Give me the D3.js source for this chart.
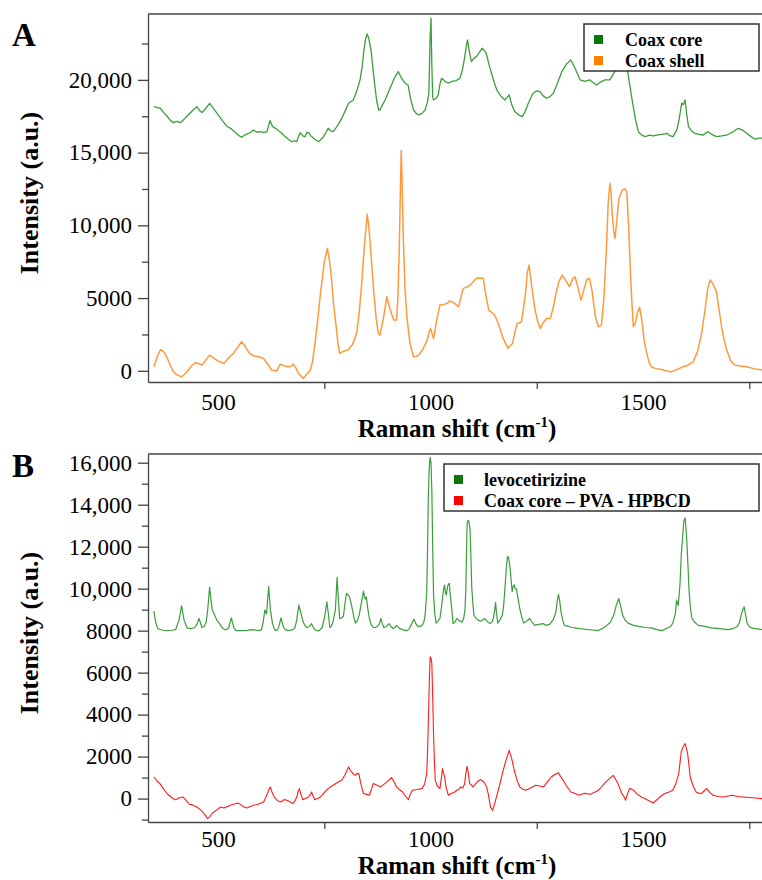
<!DOCTYPE html>
<html>
<head>
<meta charset="utf-8">
<script src="https://cdn.jsdelivr.net/npm/d3@7"></script>
<style>
body { margin: 0; background: #fff; }
svg { font-family: "Liberation Serif", "Times New Roman", serif; }
.axis path, .axis line { stroke: #444; stroke-width: 1.3; }
.axis text { fill: #000; font-size: 23px; font-family: "Liberation Serif", "Times New Roman", serif; }
</style>
</head>
<body>
<svg width="762" height="880"></svg>
<script>
// spectra: [Raman shift, intensity]
var coaxCore = [[349,18160],[357,18100],[364,18050],[372,17750],[380,17500],[388,17200],[395,17060],[403,17150],[411,17060],[420,17300],[430,17600],[440,17900],[450,18160],[456,17900],[462,17750],[470,18000],[480,18390],[490,18000],[500,17600],[510,17200],[520,16830],[530,16650],[540,16400],[548,16200],[555,16050],[562,16200],[570,16300],[577,16400],[583,16550],[592,16400],[600,16450],[608,16380],[615,16440],[622,17200],[628,16800],[635,16670],[642,16500],[650,16330],[656,16150],[662,16000],[668,15850],[673,15750],[680,15800],[685,15750],[689,16100],[693,16370],[699,16150],[705,16100],[709,16400],[713,16370],[717,16200],[720,16100],[728,15900],[736,15750],[742,15900],[748,16100],[754,16400],[759,16670],[765,16500],[771,16440],[780,16800],[790,17300],[798,17800],[807,18390],[812,18500],[818,18620],[826,19200],[834,20000],[839,20900],[843,22000],[847,22800],[851,23160],[855,22800],[860,22000],[864,20900],[868,19800],[873,18600],[878,17930],[881,17930],[887,18300],[893,18620],[903,19300],[913,20000],[918,20300],[924,20570],[932,20100],[940,19770],[947,19650],[953,18700],[960,17930],[966,17700],[972,17590],[980,17700],[987,17930],[992,18400],[996,19080],[999,23000],[1001,24240],[1003,21000],[1005,18800],[1007,18620],[1012,18700],[1018,18960],[1022,19700],[1026,20110],[1034,19900],[1042,19770],[1050,19900],[1060,19950],[1069,20110],[1075,20700],[1080,21500],[1084,22300],[1087,22750],[1091,22000],[1096,21250],[1102,21500],[1108,21600],[1115,21900],[1122,22180],[1127,22000],[1131,21830],[1138,21000],[1145,20300],[1150,19800],[1156,19300],[1165,18900],[1175,18620],[1180,18800],[1185,18960],[1191,18300],[1198,17820],[1207,17600],[1216,17470],[1222,17800],[1230,18400],[1241,19080],[1250,19250],[1258,19190],[1265,18900],[1273,18740],[1281,18850],[1289,19080],[1299,19800],[1309,20570],[1320,21100],[1330,21370],[1340,20800],[1352,20000],[1363,19900],[1375,20000],[1383,19800],[1391,19650],[1400,19850],[1410,20000],[1422,20000],[1430,20400],[1438,20800],[1450,21200],[1462,20910],[1468,19800],[1475,18500],[1482,17300],[1489,16440],[1497,16200],[1505,16100],[1515,16200],[1524,16150],[1532,16200],[1544,16250],[1556,16330],[1564,16150],[1571,16100],[1580,16600],[1585,17300],[1591,18390],[1595,18300],[1599,18620],[1603,17600],[1607,16780],[1614,16500],[1622,16330],[1632,16250],[1642,16210],[1648,16350],[1653,16440],[1662,16250],[1673,16100],[1685,16150],[1697,16210],[1710,16400],[1724,16670],[1734,16550],[1744,16330],[1754,16100],[1764,15920],[1772,16000],[1780,15990]];

var coaxShell = [[349,275],[357,1000],[365,1470],[372,1300],[379,965],[387,400],[395,-70],[404,-300],[414,-410],[422,-200],[430,50],[438,350],[446,550],[454,500],[462,390],[470,700],[480,1080],[488,900],[497,735],[505,600],[514,510],[525,900],[536,1195],[546,1600],[555,1995],[563,1700],[574,1195],[582,1050],[590,1000],[598,950],[607,850],[616,500],[626,50],[632,30],[638,-20],[646,460],[655,350],[665,275],[671,300],[677,460],[683,200],[689,-180],[695,-350],[701,-525],[709,-200],[717,50],[722,600],[728,1880],[734,3400],[740,5090],[745,6300],[750,7500],[757,8420],[762,7600],[767,6240],[772,4500],[778,3000],[782,1900],[786,1195],[796,1350],[806,1425],[816,1800],[826,2570],[832,4000],[838,6010],[844,8500],[851,10780],[855,9800],[860,8000],[866,5500],[872,3600],[877,2570],[881,2455],[889,3600],[897,5090],[904,4300],[913,3490],[920,3500],[923,5000],[926,8000],[929,12500],[931,15150],[933,13000],[936,9000],[940,5500],[945,3500],[952,1800],[960,965],[966,1000],[972,1080],[982,1500],[992,2110],[997,2700],[1000,2915],[1004,2500],[1007,2230],[1014,3400],[1022,4520],[1030,4550],[1039,4635],[1044,4800],[1050,4750],[1058,4600],[1066,4405],[1071,5000],[1077,5665],[1085,5750],[1093,5895],[1100,6100],[1108,6355],[1116,6380],[1124,6355],[1130,5200],[1137,4175],[1144,4000],[1151,3830],[1160,3200],[1170,2300],[1182,1540],[1187,1700],[1193,1880],[1198,2600],[1204,3260],[1209,3300],[1214,3370],[1223,5200],[1228,6800],[1232,7270],[1238,5800],[1246,4175],[1252,3400],[1258,2915],[1265,3300],[1273,3600],[1282,3600],[1289,4400],[1296,5435],[1303,6200],[1310,6580],[1318,6200],[1327,5780],[1334,6300],[1340,6465],[1347,5700],[1354,4860],[1362,5700],[1368,6300],[1374,6355],[1380,5500],[1388,3700],[1395,3025],[1402,3140],[1408,5000],[1414,8500],[1418,11500],[1422,12890],[1425,12200],[1427,11000],[1431,9600],[1434,9100],[1438,10200],[1443,11800],[1448,12200],[1452,12440],[1457,12500],[1462,12300],[1466,10000],[1470,7000],[1474,4600],[1477,3025],[1482,3300],[1487,4000],[1492,4360],[1497,3500],[1503,2000],[1509,1195],[1514,600],[1520,275],[1530,150],[1540,100],[1548,50],[1557,-20],[1567,-70],[1580,100],[1595,275],[1607,400],[1618,620],[1628,1300],[1638,2570],[1646,4200],[1652,5600],[1658,6240],[1664,6000],[1673,5430],[1679,4200],[1685,3000],[1691,2100],[1697,1425],[1706,700],[1716,390],[1730,330],[1744,275],[1760,150],[1780,50]];

var levocetirizine = [[349,8930],[353,8400],[358,8095],[370,8020],[380,8000],[390,8020],[400,8050],[408,8500],[414,9180],[420,8500],[427,8130],[436,8100],[445,8150],[450,8300],[455,8580],[462,8150],[467,8200],[472,8400],[476,9100],[480,10065],[483,9500],[486,9000],[492,8740],[497,8500],[503,8360],[509,8150],[515,8050],[520,8050],[525,8150],[531,8610],[537,8150],[542,8000],[554,8000],[566,8000],[578,8050],[590,8020],[596,8000],[602,8050],[606,8400],[610,8980],[614,8800],[619,10100],[623,9000],[628,8335],[632,8100],[635,8000],[640,8050],[643,8200],[648,8610],[653,8200],[658,8050],[666,8000],[676,8050],[681,8150],[685,8500],[690,9215],[694,8900],[699,8500],[703,8300],[708,8150],[715,8200],[720,8335],[725,8100],[731,8000],[738,8000],[745,8150],[751,8700],[756,9375],[760,8700],[763,8150],[766,8200],[770,8400],[776,9000],[780,10540],[783,9500],[786,8580],[790,8600],[795,8700],[798,9200],[802,9775],[806,9700],[809,9615],[813,9300],[816,9000],[820,8600],[823,8360],[828,8500],[832,8740],[837,9300],[842,9885],[846,9500],[849,9600],[852,9100],[856,8580],[860,8300],[865,8150],[870,8150],[875,8200],[879,8300],[883,8580],[887,8300],[890,8150],[896,8200],[902,8335],[907,8200],[912,8100],[916,8150],[920,8250],[927,8100],[935,8050],[940,8000],[945,8000],[950,8100],[955,8300],[961,8550],[965,8350],[970,8200],[975,8200],[980,8250],[984,8400],[987,8700],[991,9855],[993,12000],[995,14655],[997,15800],[999,16250],[1001,16000],[1003,14655],[1005,12000],[1007,9700],[1010,8800],[1013,8360],[1017,8450],[1022,8580],[1025,9000],[1028,9550],[1031,10000],[1033,10175],[1035,9800],[1037,9700],[1040,10100],[1042,10200],[1044,10255],[1046,9800],[1049,9215],[1053,8335],[1057,8400],[1062,8580],[1066,8500],[1070,8450],[1074,8400],[1078,8600],[1081,9000],[1083,10000],[1086,13100],[1088,13250],[1090,13220],[1093,12800],[1095,11500],[1097,10020],[1100,9200],[1102,8740],[1107,8600],[1112,8500],[1118,8450],[1122,8500],[1127,8580],[1133,8450],[1140,8335],[1144,8400],[1148,8600],[1151,9000],[1153,9345],[1155,8900],[1158,8360],[1163,8500],[1169,8740],[1172,9200],[1175,10000],[1178,10900],[1181,11540],[1183,11500],[1185,11300],[1188,10820],[1190,10300],[1192,9855],[1194,10100],[1197,10175],[1199,10000],[1202,9990],[1206,9500],[1210,9050],[1214,8700],[1219,8360],[1226,8450],[1233,8580],[1239,8400],[1245,8250],[1255,8300],[1265,8335],[1272,8250],[1280,8300],[1288,8500],[1292,8700],[1295,8900],[1298,9400],[1301,9725],[1304,9400],[1307,8900],[1311,8500],[1315,8250],[1325,8200],[1333,8150],[1340,8130],[1350,8100],[1360,8080],[1370,8050],[1382,8030],[1394,8000],[1405,8100],[1415,8250],[1423,8400],[1431,8740],[1437,9200],[1443,9535],[1447,9200],[1452,8740],[1458,8500],[1465,8360],[1477,8250],[1490,8200],[1505,8150],[1520,8130],[1532,8050],[1545,8000],[1555,8100],[1565,8200],[1570,8360],[1576,8800],[1579,9455],[1583,9200],[1587,10200],[1590,11615],[1593,12400],[1596,13200],[1599,13375],[1601,12900],[1603,12320],[1606,11000],[1608,10020],[1611,9200],[1615,8580],[1622,8400],[1630,8250],[1645,8200],[1660,8130],[1680,8100],[1700,8050],[1712,8100],[1722,8200],[1727,8400],[1731,8740],[1735,9000],[1738,9135],[1741,8800],[1745,8360],[1750,8200],[1755,8130],[1765,8100],[1780,8050]];

var coreTernary = [[349,1030],[356,850],[363,715],[372,450],[381,205],[388,100],[394,0],[400,-50],[408,30],[418,75],[425,-100],[432,-270],[440,-300],[450,-400],[457,-500],[464,-640],[470,-800],[475,-955],[481,-850],[487,-685],[496,-550],[506,-400],[514,-450],[522,-380],[529,-320],[538,-260],[547,-210],[554,-300],[561,-400],[568,-450],[575,-380],[584,-320],[592,-280],[600,-220],[607,-160],[612,50],[616,240],[620,450],[623,555],[627,300],[632,75],[640,-100],[648,-160],[655,-50],[662,-80],[669,-150],[676,-240],[681,-100],[685,75],[688,300],[691,475],[695,200],[699,-50],[706,0],[713,75],[717,200],[720,315],[724,100],[727,-50],[734,0],[741,75],[750,300],[759,475],[768,600],[777,715],[784,800],[791,870],[799,1150],[807,1510],[811,1350],[814,1270],[819,1150],[823,1110],[827,1200],[831,1190],[836,700],[842,240],[849,200],[856,160],[861,450],[865,715],[873,650],[883,555],[890,680],[897,795],[903,900],[908,1000],[914,800],[920,555],[927,420],[934,315],[941,100],[948,-50],[952,200],[957,395],[968,430],[980,475],[986,700],[991,1190],[993,2300],[995,3815],[997,5500],[999,6750],[1001,6700],[1003,6435],[1005,4800],[1007,3100],[1009,1800],[1011,870],[1016,600],[1022,475],[1025,900],[1028,1430],[1030,1250],[1033,1030],[1037,500],[1042,160],[1050,250],[1056,300],[1062,395],[1067,450],[1071,555],[1076,500],[1080,700],[1083,1200],[1086,1540],[1089,1200],[1092,715],[1096,650],[1100,555],[1108,750],[1113,850],[1118,905],[1125,800],[1132,555],[1136,200],[1141,-400],[1146,-560],[1150,-300],[1155,75],[1162,600],[1169,1190],[1177,1800],[1185,2300],[1191,1900],[1197,1350],[1203,900],[1210,555],[1217,450],[1224,395],[1235,500],[1247,635],[1256,600],[1266,555],[1275,800],[1284,1030],[1292,1150],[1301,1225],[1306,1050],[1312,870],[1320,600],[1330,315],[1339,250],[1349,160],[1362,250],[1376,205],[1386,300],[1395,395],[1404,600],[1413,795],[1421,950],[1430,1110],[1436,900],[1441,715],[1446,450],[1450,240],[1455,100],[1459,-80],[1463,200],[1468,475],[1473,450],[1478,395],[1487,200],[1496,75],[1504,0],[1514,-100],[1524,-210],[1538,50],[1551,240],[1560,300],[1570,395],[1577,700],[1584,1190],[1587,1700],[1590,2220],[1594,2450],[1599,2620],[1602,2400],[1605,2140],[1608,1600],[1611,1030],[1618,600],[1625,315],[1631,260],[1637,240],[1643,350],[1650,475],[1657,300],[1665,160],[1677,100],[1689,75],[1700,120],[1710,160],[1722,100],[1735,75],[1750,50],[1765,30],[1780,0]];

var xLabelTicks = [500, 1000, 1500];
var xMinorTicks = [750, 1250, 1750];
var yMajorA = [0, 5000, 10000, 15000, 20000];
var yMinorA = [2500, 7500, 12500, 17500, 22500];
var yMajorB = [0, 2000, 4000, 6000, 8000, 10000, 12000, 14000, 16000];
var yMinorB = [-1000, 1000, 3000, 5000, 7000, 9000, 11000, 13000, 15000];

var svg = d3.select('svg');
var left = 148, right = 762;

var xScale = d3.scaleLinear()
    .domain([335, 1780])
    .range([left, right]);

// thousands separator only from 10,000 up, as in the figure
var yFmt = function(d) { return d >= 10000 ? d3.format(",")(d) : d3.format("d")(d); };

function drawPanel(p) {
  var y = d3.scaleLinear().domain(p.yDomain).range([p.bottom, p.top]);
  var g = svg.append('g');

  // spectra
  p.series.forEach(function(s) {
    g.append('path')
      .datum(s.data)
      .attr('fill', 'none')
      .attr('stroke', s.line)
      .attr('stroke-width', s.width)
      .attr('stroke-linejoin', 'round')
      .attr('d', d3.line()
        .x(function(d) { return xScale(d[0]); })
        .y(function(d) { return y(d[1]); }));
  });

  // top frame line
  g.append('line')
    .attr('x1', left).attr('x2', right)
    .attr('y1', p.top).attr('y2', p.top)
    .attr('stroke', '#444').attr('stroke-width', 1.3);

  // y axis
  g.append('g').attr('class', 'axis')
    .attr('transform', 'translate(' + left + ',0)')
    .call(d3.axisLeft(y).tickValues(p.yMinor).tickSize(6).tickSizeOuter(0).tickFormat(''));
  g.append('g').attr('class', 'axis')
    .attr('transform', 'translate(' + left + ',0)')
    .call(d3.axisLeft(y).tickValues(p.yMajor).tickSize(10).tickPadding(6).tickFormat(yFmt))
    .call(function(a) { a.select('.domain').remove(); });

  // x axis
  g.append('g').attr('class', 'axis')
    .attr('transform', 'translate(0,' + p.bottom + ')')
    .call(d3.axisBottom(xScale).tickValues(xMinorTicks).tickSize(7).tickSizeOuter(0).tickFormat(''));
  g.append('g').attr('class', 'axis')
    .attr('transform', 'translate(0,' + p.bottom + ')')
    .call(d3.axisBottom(xScale).tickValues(xLabelTicks).tickSize(0).tickPadding(p.xPad).tickFormat(d3.format("d")))
    .call(function(a) { a.select('.domain').remove(); });

  // axis titles
  var xt = g.append('text')
    .attr('x', 457).attr('y', p.bottom + p.xTitleDy)
    .attr('text-anchor', 'middle')
    .attr('font-size', 25).attr('font-weight', 'bold')
    .text('Raman shift (cm');
  xt.append('tspan').attr('dy', -10).attr('font-size', 15).text('-1');
  xt.append('tspan').attr('dy', 10).text(')');

  g.append('text')
    .attr('transform', 'translate(' + [38, (p.top + p.bottom) / 2 - 5] + ')rotate(-90)')
    .attr('text-anchor', 'middle')
    .attr('font-size', 26).attr('font-weight', 'bold')
    .text('Intensity (a.u.)');

  // panel letter
  g.append('text')
    .attr('x', 12).attr('y', p.top + p.letterDy)
    .attr('font-size', 33).attr('font-weight', 'bold')
    .text(p.letter);

  // legend
  var lg = g.append('g').attr('transform', 'translate(' + [p.legend.x, p.legend.y] + ')');
  lg.append('rect')
    .attr('width', p.legend.w).attr('height', 47)
    .attr('fill', '#fff').attr('stroke', '#333').attr('stroke-width', 1.5);
  p.series.forEach(function(s, i) {
    lg.append('rect')
      .attr('x', 10).attr('y', 11 + i * 21)
      .attr('width', 9).attr('height', 9)
      .attr('fill', s.key);
    lg.append('text')
      .attr('x', p.legend.tx).attr('y', 22 + i * 21)
      .attr('font-size', 18).attr('font-weight', 'bold')
      .text(s.name);
  });
}

drawPanel({
  letter: 'A', top: 14, bottom: 382, yDomain: [-770, 24530],
  yMajor: yMajorA, yMinor: yMinorA, xPad: 12, xTitleDy: 55, letterDy: 32,
  legend: {x: 584, y: 24, w: 175, tx: 41},
  series: [
    {name: 'Coax core', data: coaxCore, line: '#3a9e3a', key: '#087808', width: 1.3},
    {name: 'Coax shell', data: coaxShell, line: '#ff9a3c', key: '#ff8000', width: 1.5}
  ]
});

drawPanel({
  letter: 'B', top: 454, bottom: 822, yDomain: [-1115, 16415],
  yMajor: yMajorB, yMinor: yMinorB, xPad: 9, xTitleDy: 52, letterDy: 23,
  legend: {x: 444, y: 464, w: 315, tx: 40},
  series: [
    {name: 'levocetirizine', data: levocetirizine, line: '#3a9e3a', key: '#087808', width: 1.2},
    {name: 'Coax core \u2013 PVA - HPBCD', data: coreTernary, line: '#ff1a1a', key: '#ff0000', width: 1.1}
  ]
});
</script>
</body>
</html>
